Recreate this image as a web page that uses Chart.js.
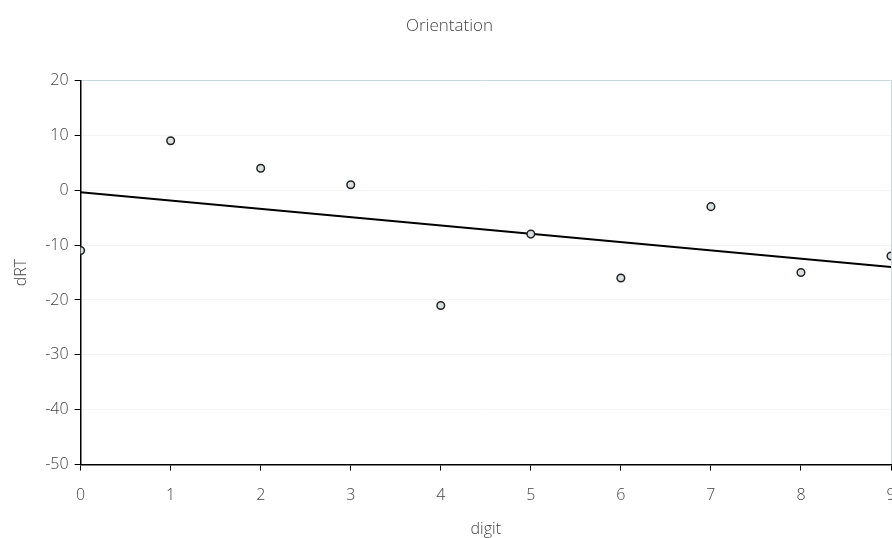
<!DOCTYPE html>
<html>
<head>
<meta charset="utf-8">
<script src="https://cdn.jsdelivr.net/npm/chart.js@4"></script>
<style>
  html, body { margin: 0; padding: 0; background: #fff; overflow: hidden; }
  #wrap { width: 892px; height: 538px; overflow: hidden; }
</style>
</head>
<body>
<div id="wrap"><canvas id="chart" width="912" height="538"></canvas></div>
<script>
const digits = [0, 1, 2, 3, 4, 5, 6, 7, 8, 9];
const dRT = [-11, 9, 4, 1, -21, -8, -16, -3, -15, -12];
// trend line ends
const trendX = [0, 9];
const trendY = [-0.4, -14.0];

const font = "'Open Sans', sans-serif";
const textColor = '#444';
const borderBlue = '#c9dadd';

const points = digits.map((d, i) => ({ x: d, y: dRT[i] }));
const trend = trendX.map((d, i) => ({ x: d, y: trendY[i] }));

new Chart(document.getElementById('chart').getContext('2d'), {
  type: 'scatter',
  data: {
    datasets: [
      { label: 'dRT', data: points, pointRadius: 3.8, pointBorderWidth: 1.5,
        backgroundColor: '#d8e0e2', borderColor: '#222', order: 1 },
      { label: 'trend', data: trend, type: 'line', showLine: true, pointRadius: 0,
        borderColor: '#000', borderWidth: 2, fill: false, order: 2 }
    ]
  },
  options: {
    responsive: false,
    animation: false,
    layout: { padding: { top: 8, left: 8, right: 21, bottom: -5 } },
    plugins: {
      legend: { display: false },
      tooltip: { enabled: false },
      title: { display: true, text: 'Orientation', color: textColor,
        font: { family: font, size: 17, weight: 300 }, padding: { top: 8, bottom: 44 } }
    },
    scales: {
      x: {
        type: 'linear', min: 0, max: 9,
        ticks: { stepSize: 1, color: textColor, padding: 15, font: { family: font, size: 16, weight: 300 } },
        grid: {
          color: (c) => c.tick && c.tick.value === 9 ? borderBlue : 'rgba(0,0,0,0)',
          tickColor: '#000', tickLength: 6, lineWidth: 1
        },
        border: { color: '#000', width: 1.5 },
        title: { display: true, text: 'digit', color: textColor, padding: { top: 0 },
          font: { family: font, size: 16, weight: 300 } }
      },
      y: {
        min: -50, max: 20,
        ticks: { stepSize: 10, color: textColor, padding: 6, font: { family: font, size: 16, weight: 300 } },
        grid: {
          color: (c) => c.tick && c.tick.value === 20 ? borderBlue : '#f3f3f3',
          tickColor: '#000', tickLength: 6, lineWidth: 1
        },
        border: { color: '#000', width: 1.5 },
        title: { display: true, text: 'dRT', color: textColor, padding: { bottom: 8 },
          font: { family: font, size: 16, weight: 300 } }
      }
    }
  }
});
</script>
</body>
</html>
